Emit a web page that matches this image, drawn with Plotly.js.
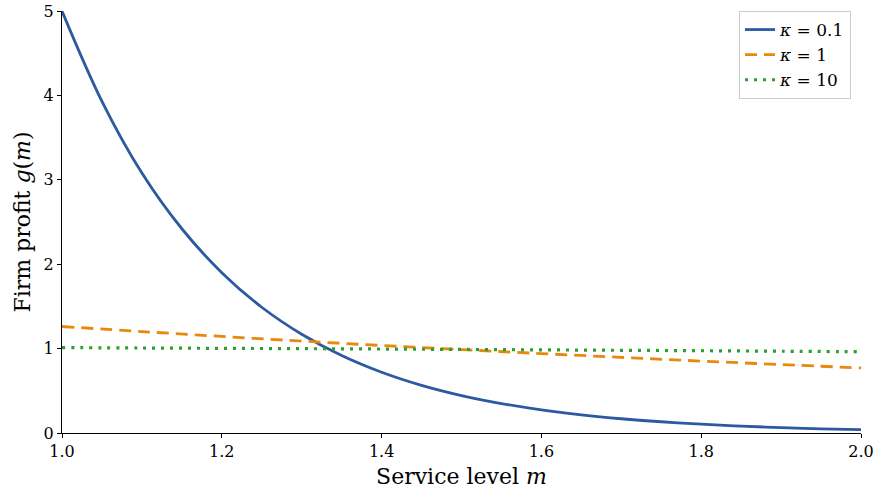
<!DOCTYPE html>
<html><head><meta charset="utf-8">
<script src="https://cdn.plot.ly/plotly-3.0.1.min.js"></script>
<style>body{margin:0;padding:0;background:#fff}#chart{width:875px;height:491px}</style>
</head><body><div id="chart"></div>
<script>
const m = [1.00,1.05,1.10,1.15,1.20,1.25,1.30,1.35,1.40,1.45,1.50,1.55,1.60,1.65,1.70,1.75,1.80,1.85,1.90,1.95,2.00];
const gKappa01 = [5.00,3.93,3.08,2.42,1.90,1.49,1.17,0.918,0.720,0.565,0.444,0.349,0.274,0.215,0.169,0.133,0.104,0.082,0.064,0.050,0.040];
const mCoarse = [1.0,1.1,1.2,1.3,1.4,1.5,1.6,1.7,1.8,1.9,2.0];
const gKappa1 = [1.262,1.202,1.144,1.089,1.037,0.988,0.941,0.896,0.852,0.811,0.771];
const gKappa10 = [1.012,1.007,1.003,0.999,0.995,0.990,0.985,0.980,0.975,0.969,0.963];
const labels = ['<i>κ</i> = 0.1','<i>κ</i> = 1','<i>κ</i> = 10'];
const font = 'DejaVu Serif, serif';
const traces = [
  {x:m, y:gKappa01, name:labels[0], mode:'lines', line:{color:'#2c5aa0', width:2.8, shape:'spline'}},
  {x:mCoarse, y:gKappa1, name:labels[1], mode:'lines', line:{color:'#e8890c', width:2.8, dash:'12px,7px', shape:'spline'}},
  {x:mCoarse, y:gKappa10, name:labels[2], mode:'lines', line:{color:'#2ca02c', width:3.2, dash:'3px,6px', shape:'spline'}}
];
const layout = {
  width:875, height:491,
  margin:{l:62, r:14, t:11, b:58},
  paper_bgcolor:'#fff', plot_bgcolor:'#fff',
  font:{family:font, color:'#000', size:16},
  showlegend:true,
  legend:{x:0.9875, y:1.0, xanchor:'right', yanchor:'top', bgcolor:'rgba(255,255,255,0.9)', bordercolor:'#cccccc', borderwidth:1, font:{family:font, size:17}, tracegroupgap:0},
  xaxis:{range:[1,2], tickvals:[1.0,1.2,1.4,1.6,1.8,2.0], ticktext:['1.0','1.2','1.4','1.6','1.8','2.0'],
    showgrid:false, zeroline:false, showline:true, linecolor:'#000', linewidth:1.2, ticks:'outside', ticklen:4, tickcolor:'#000',
    tickfont:{family:font, size:16}, title:{text:'Service level <i>m</i>', font:{family:font, size:22}, standoff:8}},
  yaxis:{range:[0,5], tickvals:[0,1,2,3,4,5], showgrid:false, zeroline:false, showline:true, linecolor:'#000', linewidth:1.2,
    ticks:'outside', ticklen:4, tickcolor:'#000', tickfont:{family:font, size:16},
    title:{text:'Firm profit <i>g</i>(<i>m</i>)', font:{family:font, size:22}, standoff:6}}
};
Plotly.newPlot('chart', traces, layout, {displayModeBar:false});
</script></body></html>
